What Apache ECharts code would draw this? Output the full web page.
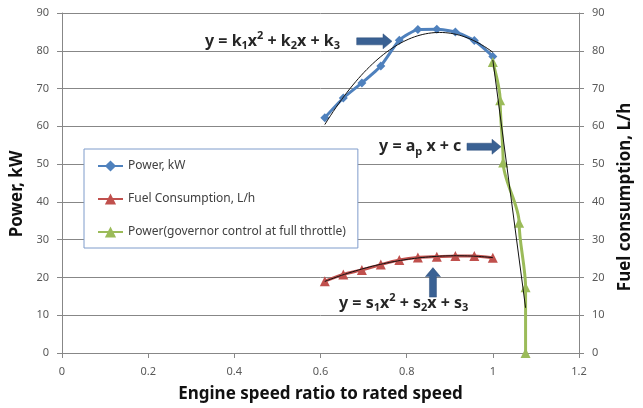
<!DOCTYPE html>
<html>
<head>
<meta charset="utf-8">
<script src="https://cdn.jsdelivr.net/npm/echarts@6/dist/echarts.min.js"></script>
<style>
  html, body { margin: 0; padding: 0; background: #ffffff; }
  #chart { width: 643px; height: 408px; }
</style>
</head>
<body>
<div id="chart"></div>
<script>
// Engine speed ratio (to rated speed) for the measured load points
const speedRatio = [0.61, 0.653, 0.696, 0.74, 0.783, 0.826, 0.87, 0.913, 0.957, 1.0];
// Measured output power, kW
const powerKW = [62.3, 67.5, 71.5, 76.0, 82.8, 85.6, 85.7, 85.0, 82.7, 78.5];
// Measured fuel consumption, L/h
const fuelLh = [19.0, 20.8, 22.0, 23.4, 24.6, 25.3, 25.5, 25.7, 25.7, 25.2];
// Governor-controlled region at full throttle
const governorRatio = [1.0, 1.017, 1.024, 1.061, 1.076, 1.076];
const governorPowerKW = [77.0, 66.9, 50.4, 34.5, 17.4, 0];

// Axis ticks
const xTicks = { min: 0, max: 1.2, step: 0.2 };
const yTicks = { min: 0, max: 90, step: 10 };

const FONT = '"Noto Sans", "Open Sans", sans-serif';

// Least-squares polynomial fit (degree 1 or 2) used for the trend lines
function polyFit(xs, ys, deg) {
  const n = deg + 1;
  const A = [];
  for (let r = 0; r < n; r++) {
    A.push(new Array(n + 1).fill(0));
  }
  for (let i = 0; i < xs.length; i++) {
    for (let r = 0; r < n; r++) {
      for (let c = 0; c < n; c++) A[r][c] += Math.pow(xs[i], r + c);
      A[r][n] += ys[i] * Math.pow(xs[i], r);
    }
  }
  for (let p = 0; p < n; p++) {
    let best = p;
    for (let r = p + 1; r < n; r++) if (Math.abs(A[r][p]) > Math.abs(A[best][p])) best = r;
    [A[p], A[best]] = [A[best], A[p]];
    for (let r = 0; r < n; r++) {
      if (r === p) continue;
      const f = A[r][p] / A[p][p];
      for (let c = p; c <= n; c++) A[r][c] -= f * A[p][c];
    }
  }
  return A.map((row, i) => row[n] / row[i]);
}
function trend(xs, ys, deg, steps) {
  const coef = polyFit(xs, ys, deg);
  const lo = Math.min(...xs), hi = Math.max(...xs);
  const out = [];
  for (let i = 0; i <= steps; i++) {
    const x = lo + (hi - lo) * i / steps;
    let y = 0;
    coef.forEach((c, k) => { y += c * Math.pow(x, k); });
    out.push([x, y]);
  }
  return out;
}
const zip = (a, b) => a.map((v, i) => [v, b[i]]);

const BLUE = '#4f81bd', RED = '#c0504d', GREEN = '#9bbb59', GRID = '#878787';

const chart = echarts.init(document.getElementById('chart'), null, { renderer: 'canvas' });

const axisCommon = {
  type: 'value',
  axisLine: { show: true, lineStyle: { color: GRID, width: 1 } },
  axisTick: { show: true, inside: false, length: 5, lineStyle: { color: GRID } },
  axisLabel: { color: '#595959', fontSize: 11, fontFamily: FONT },
  nameTextStyle: { color: '#111', fontSize: 17, fontWeight: 'bold', fontFamily: FONT },
  nameLocation: 'middle'
};

const trendStyle = { color: '#111', width: 1 };

chart.setOption({
  animation: false,
  backgroundColor: '#ffffff',
  grid: { left: 62, right: 64, top: 13, bottom: 55, containLabel: false },
  xAxis: Object.assign({}, axisCommon, {
    min: xTicks.min, max: xTicks.max, interval: xTicks.step,
    splitLine: { show: false },
    axisLabel: Object.assign({}, axisCommon.axisLabel, { margin: 13 }),
    name: 'Engine speed ratio to rated speed',
    nameGap: 33
  }),
  yAxis: [
    Object.assign({}, axisCommon, {
      position: 'left',
      min: yTicks.min, max: yTicks.max, interval: yTicks.step,
      splitLine: { show: true, lineStyle: { color: GRID, width: 1 } },
      axisLabel: Object.assign({}, axisCommon.axisLabel, { margin: 13 }),
      name: 'Power, kW',
      nameRotate: 90,
      nameGap: 36,
      nameTextStyle: Object.assign({}, axisCommon.nameTextStyle, { padding: [0, 22, 0, 0] })
    }),
    Object.assign({}, axisCommon, {
      position: 'right',
      min: yTicks.min, max: yTicks.max, interval: yTicks.step,
      splitLine: { show: false },
      axisLabel: Object.assign({}, axisCommon.axisLabel, { margin: 13 }),
      name: 'Fuel consumption, L/h',
      nameRotate: 90,
      nameGap: 38,
      nameTextStyle: Object.assign({}, axisCommon.nameTextStyle, { padding: [0, 28, 0, 0] })
    })
  ],
  legend: {
    orient: 'vertical',
    left: 84, top: 149,
    padding: [11, 12, 10, 13],
    itemGap: 21,
    itemWidth: 25, itemHeight: 14,
    backgroundColor: '#ffffff',
    borderColor: '#7f9ccb', borderWidth: 1,
    textStyle: { color: '#404040', fontSize: 12, fontFamily: FONT },
    data: ['Power, kW', 'Fuel Consumption, L/h', 'Power(governor control at full throttle)']
  },
  series: [
    {
      name: 'Power, kW', type: 'line', yAxisIndex: 0,
      data: zip(speedRatio, powerKW),
      smooth: 0.2,
      symbol: 'diamond', symbolSize: 9,
      lineStyle: { color: BLUE, width: 3 },
      itemStyle: { color: BLUE }
    },
    {
      name: 'Fuel Consumption, L/h', type: 'line', yAxisIndex: 1,
      data: zip(speedRatio, fuelLh),
      smooth: 0.2,
      symbol: 'triangle', symbolSize: 10,
      lineStyle: { color: RED, width: 3 },
      itemStyle: { color: RED }
    },
    {
      name: 'Power(governor control at full throttle)', type: 'line', yAxisIndex: 0,
      data: zip(governorRatio, governorPowerKW),
      smooth: 0.3, smoothMonotone: 'y',
      symbol: 'triangle', symbolSize: 10,
      lineStyle: { color: GREEN, width: 3 },
      itemStyle: { color: GREEN }
    },
    {
      name: 'power-trend', type: 'line', yAxisIndex: 0, z: 5,
      data: trend(speedRatio, powerKW, 2, 60),
      showSymbol: false, symbol: 'none', silent: true,
      lineStyle: trendStyle
    },
    {
      name: 'fuel-trend', type: 'line', yAxisIndex: 1, z: 5,
      data: trend(speedRatio, fuelLh, 2, 60),
      showSymbol: false, symbol: 'none', silent: true,
      lineStyle: trendStyle
    },
    {
      name: 'governor-trend', type: 'line', yAxisIndex: 0, z: 5,
      data: trend(governorRatio, governorPowerKW, 1, 2),
      showSymbol: false, symbol: 'none', silent: true,
      lineStyle: trendStyle
    }
  ]
});

// Fitted-equation callouts, anchored in data space
const ARROW = '#3a6193';
const px = (x, y) => chart.convertToPixel({ xAxisIndex: 0, yAxisIndex: 0 }, [x, y]);

function arrowRight(from, to) {
  const [x0, y] = px(from[0], from[1]);
  const [x1] = px(to[0], to[1]);
  const t = 3.5, hw = 7.5, hl = 9;
  return {
    type: 'polygon', z: 20,
    shape: { points: [[x0, y - t], [x1 - hl, y - t], [x1 - hl, y - hw], [x1, y], [x1 - hl, y + hw], [x1 - hl, y + t], [x0, y + t]] },
    style: { fill: ARROW, stroke: '#2f4f7a', lineWidth: 0.5 }
  };
}
function arrowUp(from, to) {
  const [x, y0] = px(from[0], from[1]);
  const [, y1] = px(to[0], to[1]);
  const t = 3.5, hw = 7.5, hl = 9;
  return {
    type: 'polygon', z: 20,
    shape: { points: [[x - t, y0], [x - t, y1 + hl], [x - hw, y1 + hl], [x, y1], [x + hw, y1 + hl], [x + t, y1 + hl], [x + t, y0]] },
    style: { fill: ARROW, stroke: '#2f4f7a', lineWidth: 0.5 }
  };
}
const eqRich = {
  t: { fontSize: 16, fontWeight: 'bold', fontFamily: FONT, fill: '#262626', color: '#262626', lineHeight: 21 },
  sub: { fontSize: 11, fontWeight: 'bold', fontFamily: FONT, fill: '#262626', color: '#262626', verticalAlign: 'bottom', lineHeight: 12 },
  sup: { fontSize: 11, fontWeight: 'bold', fontFamily: FONT, fill: '#262626', color: '#262626', verticalAlign: 'top', lineHeight: 12 }
};
function equation(text, at) {
  const [x, y] = px(at[0], at[1]);
  return {
    type: 'text', z: 20, x: x, y: y,
    style: { text: text, rich: eqRich, align: 'left', verticalAlign: 'middle', fontFamily: FONT }
  };
}

chart.setOption({
  graphic: [
    equation('{t|y = k}{sub|1}{t|x}{sup|2}{t| + k}{sub|2}{t|x + k}{sub|3}', [0.332, 82.5]),
    arrowRight([0.684, 82.5], [0.766, 82.5]),
    equation('{t|y = a}{sub|p}{t| x + c}', [0.736, 54.6]),
    arrowRight([0.940, 54.6], [1.019, 54.6]),
    equation('{t|y = s}{sub|1}{t|x}{sup|2}{t| + s}{sub|2}{t|x + s}{sub|3}', [0.643, 13.2]),
    arrowUp([0.861, 14.8], [0.861, 22.6])
  ]
});
</script>
</body>
</html>
